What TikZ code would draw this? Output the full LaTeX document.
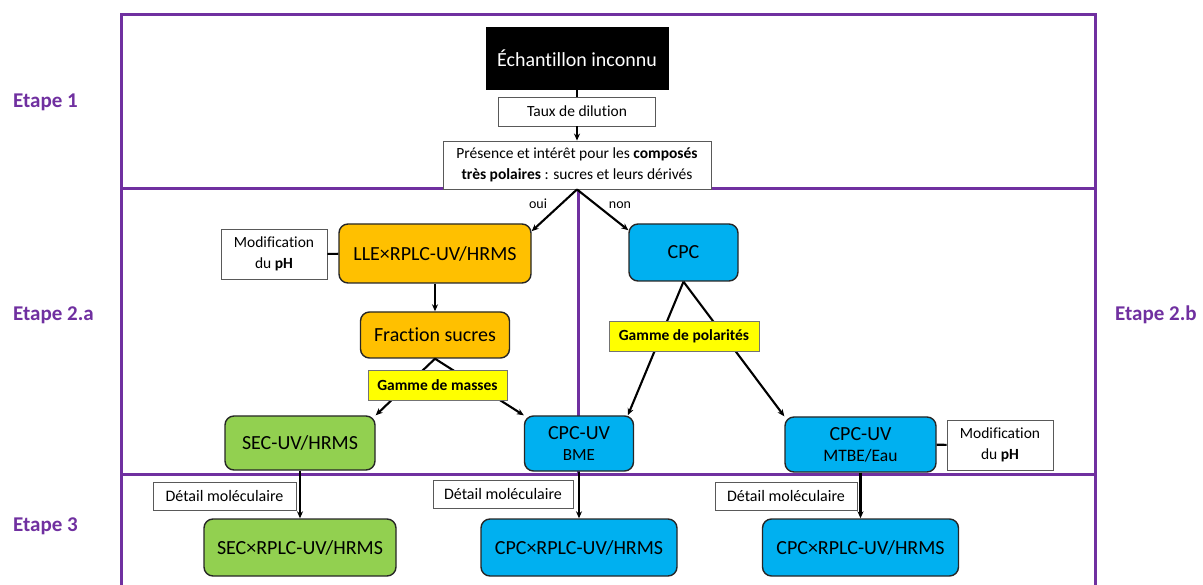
\documentclass[tikz,border=0pt]{standalone}
\usepackage{fontspec}
\setmainfont{Carlito}[Ligatures=NoCommon]
\usetikzlibrary{arrows.meta,positioning}
\definecolor{etape}{RGB}{112,48,160}
\definecolor{orangebox}{RGB}{255,192,0}
\definecolor{greenbox}{RGB}{146,208,80}
\definecolor{bluebox}{RGB}{0,176,240}
\definecolor{yellowbox}{RGB}{255,255,0}

\begin{document}
\begin{tikzpicture}[
    x=1pt, y=-1pt,
    >={Stealth[length=7pt,width=6pt]},
    frame/.style={draw=etape, line width=3pt},
    etapelabel/.style={
		text=etape,
		anchor=west,
		inner sep=0pt,
		font=\fontsize{21}{24}\selectfont\bfseries
	},
    methode/.style={
		rectangle,
		rounded corners=9pt,
		draw=black!85,
		line width=1.4pt,
		align=center,
		inner sep=0pt,
		font=\fontsize{20}{24}\selectfont
	},
    note/.style={
		rectangle,
		draw=black!65,
		line width=0.9pt,
		fill=white,
		align=center,
		inner sep=0pt,
		font=\fontsize{15.5}{21}\selectfont
	},
    critere/.style={
		rectangle,
		draw=black!55,
		line width=0.8pt,
		fill=yellowbox,
		inner sep=0pt,
		minimum height=30pt,
		font=\fontsize{15.5}{18}\selectfont\bfseries
	},
    lien/.style={draw=black, line width=2.1pt},
    choix/.style={font=\fontsize{14}{16}\selectfont, inner sep=0pt}
  ]
  \useasboundingbox (0,0) rectangle (1203,585);

  % stage frames
  \draw [frame] (121,590) -- (121,15) -- (1095,15) -- (1095,590);
  \draw [frame] (121,189) -- (1095,189);
  \draw [frame] (121,474) -- (1095,474);
  \draw [frame] (578,189) -- (578,474);

  \node [etapelabel] (etape1) at (13,102) {Etape 1};
  \node [etapelabel] (etape2a) at (13,315) {Etape 2.a};
  \node [etapelabel] (etape3) at (13,526) {Etape 3};
  \node [etapelabel] (etape2b) at (1115,315) {Etape 2.b};

  % We start by placing the blocks
  \node [rectangle, fill=black, text=white, minimum width=183pt, minimum height=63pt,
         font=\fontsize{20}{24}\selectfont] (echantillon) at (577,58.5) {Échantillon inconnu};
  \node [note, minimum width=157pt, minimum height=29pt] (dilution) at (577,111.5) {Taux de dilution};
  \node [note, minimum width=268pt, minimum height=48pt] (presence) at (577,165)
 {%
  Présence et intérêt pour les \textbf{composés}\\
  \textbf{très polaires} : sucres et leurs dérivés
 };

  \node [methode, fill=orangebox, minimum width=192pt, minimum height=59pt] (lle) at (435,253.5) {LLE×RPLC-UV/HRMS};
  \node [note, minimum width=106pt, minimum height=50pt] (phgauche) at (274,254) {Modification\\du \textbf{pH}};
  \node [methode, fill=orangebox, minimum width=149pt, minimum height=46pt] (sucres) at (435,335) {Fraction sucres};
  \node [methode, fill=greenbox, minimum width=150pt, minimum height=54pt] (secuv) at (300,443) {SEC-UV/HRMS};
  \node [methode, fill=bluebox, minimum width=109pt, minimum height=55pt] (cpcbme) at (579,443.5)
 {CPC-UV\\[-3pt]{\fontsize{17}{20}\selectfont BME}};

  \node [methode, fill=bluebox, minimum width=109pt, minimum height=57pt] (cpc) at (683.5,252.5) {CPC};
  \node [methode, fill=bluebox, minimum width=151pt, minimum height=55pt] (cpcmtbe) at (860.5,444.5)
 {CPC-UV\\[-3pt]{\fontsize{17.5}{20}\selectfont MTBE/Eau}};
  \node [note, minimum width=106pt, minimum height=50pt] (phdroite) at (1000,445) {Modification\\du \textbf{pH}};

  \node [methode, fill=greenbox, minimum width=192pt, minimum height=57pt] (secrplc) at (300,547.5) {SEC×RPLC-UV/HRMS};
  \node [methode, fill=bluebox, minimum width=196pt, minimum height=57pt] (cpcrplcbme) at (579,547.5) {CPC×RPLC-UV/HRMS};
  \node [methode, fill=bluebox, minimum width=196pt, minimum height=57pt] (cpcrplcmtbe) at (860.5,547.5) {CPC×RPLC-UV/HRMS};

  \node [note, minimum width=143pt, minimum height=28pt, font=\fontsize{16}{18}\selectfont] (detail1) at (224.5,496) {Détail moléculaire};
  \node [note, minimum width=140pt, minimum height=28pt, font=\fontsize{16}{18}\selectfont] (detail2) at (503,494) {Détail moléculaire};
  \node [note, minimum width=142pt, minimum height=28pt, font=\fontsize{16}{18}\selectfont] (detail3) at (786,496) {Détail moléculaire};

  % connectors
  \draw [lien] (echantillon) -- (dilution);
  \draw [lien,->] (dilution) -- (presence);
  \draw [lien,->] (presence.south) -- (lle.13);
  \draw [lien,->] (presence.south) -- (cpc.158);
  \node [choix] (oui) at (538,204) {oui};
  \node [choix] (non) at (620,205) {non};

  \draw [lien] (phgauche) -- (lle);
  \draw [lien,->] (lle) -- (sucres);
  \draw [lien,->] (sucres.south) -- (secuv.north east);
  \draw [lien,->] (sucres.south) -- (cpcbme.north west);
  \draw [lien,->] (cpc.south) -- (cpcbme.30);
  \draw [lien,->] (cpc.south) -- (cpcmtbe.north west);
  \draw [lien] (cpcmtbe) -- (phdroite);

  \draw [lien,->] (secuv) -- (secrplc);
  \draw [lien,->] (cpcbme) -- (cpcrplcbme);
  \draw [lien,->] (cpcmtbe) -- (cpcrplcmtbe);

  % ranges on top of the lines
  \node [critere, minimum width=139pt] (masses) at (437.5,385) {Gamme de masses};
  \node [critere, minimum width=150pt] (polarites) at (684,336) {Gamme de polarités};

\end{tikzpicture}
\end{document}
